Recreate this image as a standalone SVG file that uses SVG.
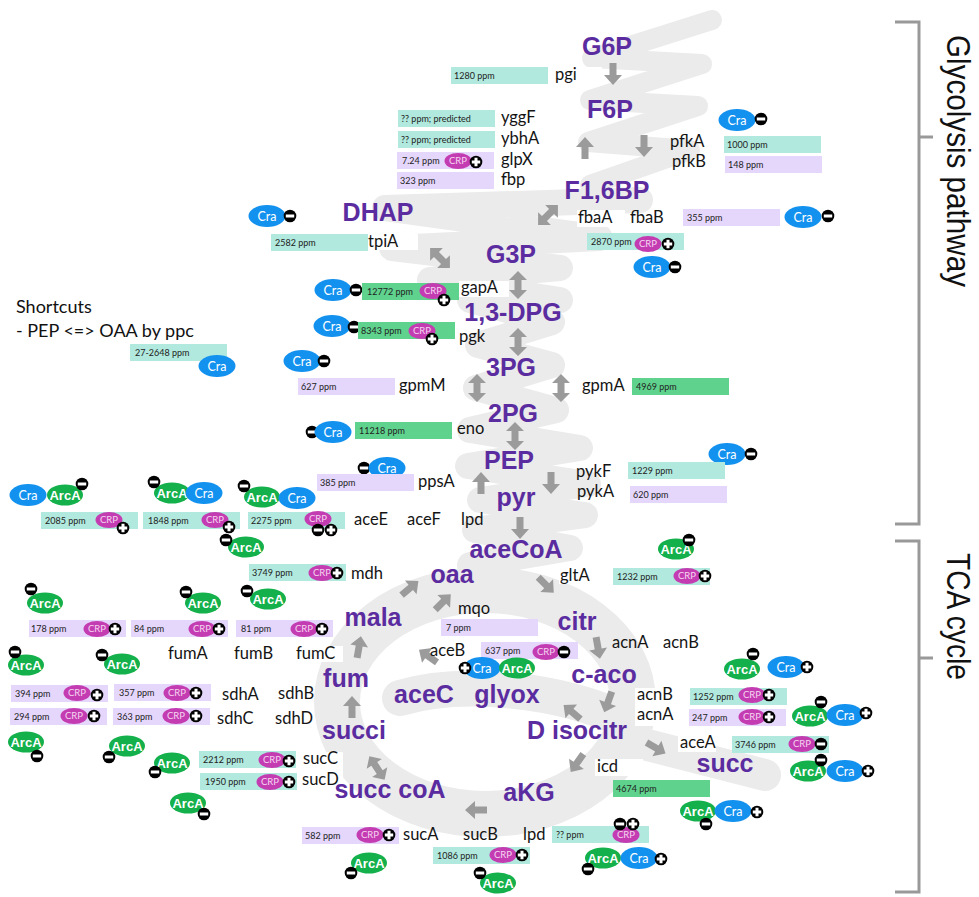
<svg xmlns="http://www.w3.org/2000/svg" width="979" height="897" viewBox="0 0 979 897">
<style>
.m{font:bold 25px "Liberation Sans",Arial,sans-serif;fill:#5a2ca0;text-anchor:middle}
.g{font:16.5px Lato,"Liberation Sans",sans-serif;fill:#141414}
.p{font:9px Lato,"Liberation Sans",sans-serif;fill:#222}
.t{fill:#b1e9de}.l{fill:#e5d6fc}.n{fill:#5fd38d}.w{fill:#fff}
.cra{fill:#1391ef}.arc{fill:#13b04b}.crp{fill:#c43cb1}
.ct{font:12.5px Lato,"Liberation Sans",sans-serif;fill:#fff;text-anchor:middle}
.at{font:bold 13px "Liberation Sans",Arial,sans-serif;fill:#fff;text-anchor:middle}
.rt{font:9.5px Lato,"Liberation Sans",sans-serif;fill:#f6d6f2;text-anchor:middle}
.rib{fill:none;stroke:#ebebeb;stroke-linecap:round;stroke-linejoin:round}
.br{fill:none;stroke:#999;stroke-width:3}
.big{font:33px "Liberation Sans",Arial,sans-serif;fill:#111}
.sc{font:18px Lato,"Liberation Sans",sans-serif;fill:#111}
</style>
<defs>
<path id="a1" fill="#9b9b9b" d="M-3.5,11V-1H-9L0,-11L9,-1H3.5V11Z"/>
<path id="a2" fill="#9b9b9b" d="M0,-14L9,-5H3.5V5H9L0,14L-9,5H-3.5V-5H-9Z"/>
<g id="mi"><circle r="6.3" fill="#000"/><rect x="-4.2" y="-1.5" width="8.4" height="3" fill="#fff"/></g>
<g id="pl"><circle r="6.3" fill="#000"/><path d="M-4.2,-1.5H-1.5V-4.2H1.5V-1.5H4.2V1.5H1.5V4.2H-1.5V1.5H-4.2Z" fill="#fff"/></g>
</defs>
<rect width="979" height="897" fill="#fff"/>

<!-- grey pathway ribbon -->
<g id="ribbon" class="rib">
<path stroke-width="20" d="M712,20 L592,58 L702,64 L590,100 L698,106 L588,142 L690,150 L590,185"/>
<path stroke-width="26" d="M640,200 L385,208 L600,238 L392,248 L560,268 L430,280 L560,300"/>
<path stroke-width="26" d="M470,300 L552,322 L478,345 L552,365 L476,388 L556,410 L470,430 L580,448 L468,466 L588,484 L480,500 L585,515 L475,530 L570,548 L470,565"/>
<ellipse stroke-width="46" cx="485" cy="702" rx="148" ry="112"/>
<path stroke-width="36" d="M400,698 C460,680 560,688 628,722"/>
<path stroke-width="32" d="M620,738 L765,775"/>
</g>

<!-- section brackets -->
<g id="brackets">
<path class="br" d="M895,22H919V524H895M919,137H933"/>
<path class="br" d="M895,541H919V892H895M919,658H933"/>
<text class="big" transform="translate(947,35) rotate(90)" textLength="252" lengthAdjust="spacingAndGlyphs">Glycolysis pathway</text>
<text class="big" transform="translate(947,553) rotate(90)" textLength="127" lengthAdjust="spacingAndGlyphs">TCA cycle</text>
</g>

<g id="note">
<text class="sc" x="16" y="313">Shortcuts</text>
<text class="sc" x="16" y="337">- PEP &lt;=&gt; OAA by ppc</text>
</g>

<!-- reaction arrows -->
<g id="connectors">
<use href="#a1" transform="translate(613,74) rotate(180)"/>
<use href="#a1" transform="translate(585,148)"/>
<use href="#a1" transform="translate(644,146) rotate(180)"/>
<use href="#a2" transform="translate(548,215) rotate(45)"/>
<use href="#a2" transform="translate(440,258) rotate(-45)"/>
<use href="#a2" transform="translate(518,285)"/>
<use href="#a2" transform="translate(518,342)"/>
<use href="#a2" transform="translate(477,388)"/>
<use href="#a2" transform="translate(561,388)"/>
<use href="#a2" transform="translate(515,436)"/>
<use href="#a1" transform="translate(481,483)"/>
<use href="#a1" transform="translate(551,483) rotate(180)"/>
<use href="#a1" transform="translate(520,528) rotate(180)"/>
<use href="#a1" transform="translate(410,588) rotate(50)"/>
<use href="#a1" transform="translate(443,602) rotate(45)"/>
<use href="#a1" transform="translate(546,585) rotate(135)"/>
<use href="#a1" transform="translate(598,648) rotate(170)"/>
<use href="#a1" transform="translate(608,702) rotate(200)"/>
<use href="#a1" transform="translate(572,712) rotate(-50)"/>
<use href="#a1" transform="translate(577,763) rotate(215)"/>
<use href="#a1" transform="translate(656,748) rotate(120)"/>
<use href="#a1" transform="translate(476,810) rotate(-90)"/>
<use href="#a2" transform="translate(377,768) rotate(-33)"/>
<use href="#a1" transform="translate(352,707)"/>
<use href="#a1" transform="translate(359,647) rotate(10)"/>
<use href="#a1" transform="translate(428,656) rotate(-55)"/>
</g>

<!-- enzymes with abundance and regulators -->
<g id="e-pgi">
<rect class="w" x="548" y="67" width="54" height="16"/>
<rect class="t" x="451" y="67" width="97" height="17"/><text class="p" x="454" y="79">1280 ppm</text>
<text class="g" x="555" y="80">pgi</text>
</g>
<g id="e-yggF">
<rect class="t" x="398" y="110" width="97" height="17"/><text class="p" x="401" y="122">?? ppm; predicted</text>
<text class="g" x="501" y="123">yggF</text>
</g>
<g id="e-ybhA">
<rect class="t" x="398" y="131" width="97" height="17"/><text class="p" x="401" y="143">?? ppm; predicted</text>
<text class="g" x="501" y="144">ybhA</text>
</g>
<g id="e-glpX">
<rect class="l" x="397" y="152" width="97" height="17"/><text class="p" x="402" y="164">7.24 ppm</text>
<ellipse class="crp" cx="458" cy="161" rx="13.5" ry="8"/><text class="rt" x="458" y="164.3">CRP</text>
<use href="#pl" x="476" y="162"/>
<text class="g" x="501" y="165">glpX</text>
</g>
<g id="e-fbp">
<rect class="l" x="397" y="172" width="97" height="17"/><text class="p" x="400" y="184">323 ppm</text>
<text class="g" x="501" y="185">fbp</text>
</g>
<g id="e-pfk">
<ellipse class="cra" cx="737" cy="120" rx="18.5" ry="11"/><text class="ct" x="737" y="124.5">Cra</text>
<use href="#mi" x="761" y="119"/>
<rect class="t" x="724" y="136" width="97" height="17"/><text class="p" x="727" y="148">1000 ppm</text>
<rect class="l" x="725" y="156" width="97" height="17"/><text class="p" x="728" y="168">148 ppm</text>
<text class="g" x="670" y="147">pfkA</text>
<text class="g" x="672" y="167">pfkB</text>
</g>
<g id="e-fba">
<rect class="w" x="577" y="210" width="48" height="17"/>
<text class="g" x="578" y="223">fbaA</text>
<text class="g" x="630" y="223">fbaB</text>
<rect class="l" x="683" y="209" width="97" height="17"/><text class="p" x="687" y="221">355 ppm</text>
<ellipse class="cra" cx="803" cy="217" rx="18.5" ry="11"/><text class="ct" x="803" y="221.5">Cra</text>
<use href="#mi" x="828" y="216"/>
<rect class="t" x="587" y="233" width="97" height="17"/><text class="p" x="591" y="245">2870 ppm</text>
<ellipse class="crp" cx="648" cy="244" rx="13.5" ry="8"/><text class="rt" x="648" y="247.3">CRP</text>
<use href="#pl" x="668" y="244"/>
<ellipse class="cra" cx="652" cy="267" rx="18.5" ry="11"/><text class="ct" x="652" y="271.5">Cra</text>
<use href="#mi" x="675" y="267"/>
</g>
<g id="e-tpiA">
<ellipse class="cra" cx="267" cy="216" rx="18.5" ry="11"/><text class="ct" x="267" y="220.5">Cra</text>
<use href="#mi" x="290" y="216"/>
<rect class="t" x="271" y="234" width="97" height="17"/><text class="p" x="275" y="246">2582 ppm</text>
<rect class="w" x="368" y="234" width="50" height="16"/>
<text class="g" x="368" y="247">tpiA</text>
</g>
<g id="e-gapA">
<ellipse class="cra" cx="333" cy="290" rx="18.5" ry="11"/><text class="ct" x="333" y="294.5">Cra</text>
<use href="#mi" x="356" y="290"/>
<rect class="n" x="362" y="283" width="97" height="17"/><text class="p" x="367" y="295">12772 ppm</text>
<ellipse class="crp" cx="433" cy="291" rx="13.5" ry="8"/><text class="rt" x="433" y="294.3">CRP</text>
<use href="#pl" x="444" y="300"/>
<rect class="w" x="459" y="281" width="50" height="16"/>
<text class="g" x="461" y="293">gapA</text>
</g>
<g id="e-pgk">
<ellipse class="cra" cx="332" cy="326" rx="18.5" ry="11"/><text class="ct" x="332" y="330.5">Cra</text>
<use href="#mi" x="354" y="327"/>
<rect class="n" x="358" y="322" width="97" height="17"/><text class="p" x="361" y="334">8343 ppm</text>
<ellipse class="crp" cx="422" cy="331" rx="13.5" ry="8"/><text class="rt" x="422" y="334.3">CRP</text>
<use href="#pl" x="432" y="339"/>
<text class="g" x="459" y="342">pgk</text>
</g>
<g id="e-gpmM">
<ellipse class="cra" cx="302" cy="361" rx="18.5" ry="11"/><text class="ct" x="302" y="365.5">Cra</text>
<use href="#mi" x="324" y="361"/>
<rect class="l" x="298" y="378" width="97" height="17"/><text class="p" x="301" y="390">627 ppm</text>
<text class="g" x="399" y="391">gpmM</text>
</g>
<g id="e-gpmA">
<text class="g" x="582" y="391">gpmA</text>
<rect class="n" x="632" y="378" width="97" height="17"/><text class="p" x="636" y="390">4969 ppm</text>
</g>
<g id="e-ppc">
<rect class="t" x="130" y="344" width="97" height="17"/><text class="p" x="135" y="356">27-2648 ppm</text>
<ellipse class="cra" cx="217" cy="366" rx="18.5" ry="11"/><text class="ct" x="217" y="370.5">Cra</text>
</g>
<g id="e-eno">
<use href="#mi" x="312" y="432"/>
<ellipse class="cra" cx="333" cy="432" rx="18.5" ry="11"/><text class="ct" x="333" y="436.5">Cra</text>
<rect class="n" x="355" y="422" width="97" height="17"/><text class="p" x="359" y="434">11218 ppm</text>
<text class="g" x="457" y="434">eno</text>
</g>
<g id="e-ppsA">
<use href="#mi" x="364" y="468"/>
<ellipse class="cra" cx="387" cy="468" rx="18.5" ry="11"/><text class="ct" x="387" y="472.5">Cra</text>
<rect class="l" x="317" y="474" width="97" height="17"/><text class="p" x="320" y="486">385 ppm</text>
<text class="g" x="418" y="487">ppsA</text>
</g>
<g id="e-pyk">
<text class="g" x="576" y="477">pykF</text>
<text class="g" x="577" y="497">pykA</text>
<ellipse class="cra" cx="727" cy="454" rx="18.5" ry="11"/><text class="ct" x="727" y="458.5">Cra</text>
<use href="#mi" x="751" y="454"/>
<rect class="t" x="628" y="462" width="97" height="17"/><text class="p" x="632" y="474">1229 ppm</text>
<rect class="l" x="630" y="486" width="97" height="17"/><text class="p" x="633" y="498">620 ppm</text>
</g>
<g id="e-pdh">
<ellipse class="cra" cx="28" cy="495" rx="18.5" ry="11"/><text class="ct" x="28" y="499.5">Cra</text>
<ellipse class="arc" cx="65" cy="495" rx="18" ry="10.5"/><text class="at" x="65" y="499.5">ArcA</text>
<use href="#mi" x="82" y="484"/>
<rect class="t" x="41" y="512" width="97" height="17"/><text class="p" x="45" y="524">2085 ppm</text>
<ellipse class="crp" cx="109" cy="520" rx="13.5" ry="8"/><text class="rt" x="109" y="523.3">CRP</text>
<use href="#pl" x="123" y="528"/>
<ellipse class="arc" cx="172" cy="493" rx="18" ry="10.5"/><text class="at" x="172" y="497.5">ArcA</text>
<ellipse class="cra" cx="204" cy="493" rx="18.5" ry="11"/><text class="ct" x="204" y="497.5">Cra</text>
<use href="#mi" x="154" y="482"/>
<rect class="t" x="143" y="512" width="97" height="17"/><text class="p" x="148" y="524">1848 ppm</text>
<ellipse class="crp" cx="215" cy="520" rx="13.5" ry="8"/><text class="rt" x="215" y="523.3">CRP</text>
<use href="#pl" x="229" y="527"/>
<ellipse class="arc" cx="246" cy="547" rx="18" ry="10.5"/><text class="at" x="246" y="551.5">ArcA</text>
<use href="#mi" x="226" y="540"/>
<ellipse class="arc" cx="262" cy="497" rx="18" ry="10.5"/><text class="at" x="262" y="501.5">ArcA</text>
<ellipse class="cra" cx="297" cy="498" rx="18.5" ry="11"/><text class="ct" x="297" y="502.5">Cra</text>
<use href="#mi" x="244" y="486"/>
<rect class="t" x="248" y="512" width="97" height="17"/><text class="p" x="251" y="524">2275 ppm</text>
<ellipse class="crp" cx="318" cy="519" rx="13.5" ry="8"/><text class="rt" x="318" y="522.3">CRP</text>
<use href="#mi" x="318" y="530"/>
<use href="#pl" x="331" y="530"/>
<text class="g" x="354" y="525">aceE</text>
<text class="g" x="407" y="525">aceF</text>
<text class="g" x="461" y="525">lpd</text>
</g>
<g id="e-mdh">
<rect class="t" x="249" y="564" width="97" height="17"/><text class="p" x="252" y="576">3749 ppm</text>
<ellipse class="crp" cx="322" cy="573" rx="13.5" ry="8"/><text class="rt" x="322" y="576.3">CRP</text>
<use href="#pl" x="337" y="573"/>
<text class="g" x="351" y="579">mdh</text>
</g>
<g id="e-gltA">
<ellipse class="arc" cx="676" cy="549" rx="18" ry="10.5"/><text class="at" x="676" y="553.5">ArcA</text>
<use href="#mi" x="689" y="540"/>
<rect class="w" x="559" y="568" width="49" height="16"/>
<text class="g" x="560" y="581">gltA</text>
<rect class="t" x="613" y="568" width="97" height="17"/><text class="p" x="617" y="580">1232 ppm</text>
<ellipse class="crp" cx="687" cy="576" rx="13.5" ry="8"/><text class="rt" x="687" y="579.3">CRP</text>
<use href="#pl" x="705" y="576"/>
</g>
<g id="e-mqo">
<text class="g" x="458" y="614">mqo</text>
<rect class="l" x="441" y="619" width="97" height="17"/><text class="p" x="446" y="631">7 ppm</text>
</g>
<g id="e-aceB">
<text class="g" x="430" y="656">aceB</text>
<rect class="l" x="481" y="642" width="97" height="17"/><text class="p" x="485" y="654">637 ppm</text>
<ellipse class="crp" cx="546" cy="652" rx="13.5" ry="8"/><text class="rt" x="546" y="655.3">CRP</text>
<use href="#mi" x="564" y="652"/>
<ellipse class="cra" cx="482" cy="668" rx="18.5" ry="11"/><text class="ct" x="482" y="672.5">Cra</text>
<use href="#pl" x="465" y="668"/>
<ellipse class="arc" cx="517" cy="668" rx="18" ry="10.5"/><text class="at" x="517" y="672.5">ArcA</text>
</g>
<g id="e-acn1">
<text class="g" x="612" y="648">acnA</text>
<text class="g" x="663" y="648">acnB</text>
<ellipse class="arc" cx="742" cy="669" rx="18" ry="10.5"/><text class="at" x="742" y="673.5">ArcA</text>
<use href="#mi" x="753" y="654"/>
<ellipse class="cra" cx="786" cy="667" rx="18.5" ry="11"/><text class="ct" x="786" y="671.5">Cra</text>
<use href="#pl" x="807" y="667"/>
</g>
<g id="e-acn2">
<rect class="w" x="635" y="688" width="44" height="38"/>
<text class="g" x="637" y="700">acnB</text>
<text class="g" x="637" y="720">acnA</text>
<rect class="t" x="690" y="688" width="97" height="17"/><text class="p" x="693" y="700">1252 ppm</text>
<ellipse class="crp" cx="752" cy="695" rx="13.5" ry="8"/><text class="rt" x="752" y="698.3">CRP</text>
<use href="#pl" x="769" y="695"/>
<rect class="l" x="689" y="709" width="97" height="17"/><text class="p" x="692" y="721">247 ppm</text>
<ellipse class="crp" cx="752" cy="717" rx="13.5" ry="8"/><text class="rt" x="752" y="720.3">CRP</text>
<use href="#pl" x="769" y="717"/>
<ellipse class="arc" cx="810" cy="716" rx="18" ry="10.5"/><text class="at" x="810" y="720.5">ArcA</text>
<ellipse class="cra" cx="845" cy="715" rx="18.5" ry="11"/><text class="ct" x="845" y="719.5">Cra</text>
<use href="#mi" x="821" y="702"/>
<use href="#pl" x="866" y="713"/>
</g>
<g id="e-aceA">
<rect class="w" x="678" y="736" width="38" height="16"/>
<text class="g" x="680" y="748">aceA</text>
<rect class="t" x="732" y="736" width="97" height="17"/><text class="p" x="735" y="748">3746 ppm</text>
<ellipse class="crp" cx="802" cy="744" rx="13.5" ry="8"/><text class="rt" x="802" y="747.3">CRP</text>
<use href="#mi" x="821" y="744"/>
<ellipse class="arc" cx="808" cy="771" rx="18" ry="10.5"/><text class="at" x="808" y="775.5">ArcA</text>
<ellipse class="cra" cx="845" cy="771" rx="18.5" ry="11"/><text class="ct" x="845" y="775.5">Cra</text>
<use href="#mi" x="821" y="760"/>
<use href="#pl" x="868" y="771"/>
</g>
<g id="e-icd">
<rect class="w" x="595" y="759" width="48" height="17"/>
<text class="g" x="597" y="772">icd</text>
<rect class="n" x="613" y="780" width="97" height="17"/><text class="p" x="616" y="792">4674 ppm</text>
<ellipse class="arc" cx="698" cy="811" rx="18" ry="10.5"/><text class="at" x="698" y="815.5">ArcA</text>
<ellipse class="cra" cx="733" cy="811" rx="18.5" ry="11"/><text class="ct" x="733" y="815.5">Cra</text>
<use href="#mi" x="706" y="824"/>
<use href="#pl" x="757" y="812"/>
</g>
<g id="e-fum">
<ellipse class="arc" cx="45" cy="603" rx="18" ry="10.5"/><text class="at" x="45" y="607.5">ArcA</text>
<use href="#mi" x="31" y="589"/>
<ellipse class="arc" cx="203" cy="603" rx="18" ry="10.5"/><text class="at" x="203" y="607.5">ArcA</text>
<use href="#mi" x="186" y="592"/>
<ellipse class="arc" cx="268" cy="599" rx="18" ry="10.5"/><text class="at" x="268" y="603.5">ArcA</text>
<use href="#mi" x="247" y="591"/>
<rect class="l" x="29" y="620" width="97" height="17"/><text class="p" x="31" y="632">178 ppm</text>
<ellipse class="crp" cx="97" cy="629" rx="13.5" ry="8"/><text class="rt" x="97" y="632.3">CRP</text>
<use href="#pl" x="115" y="629"/>
<rect class="l" x="131" y="620" width="97" height="17"/><text class="p" x="134" y="632">84 ppm</text>
<ellipse class="crp" cx="202" cy="629" rx="13.5" ry="8"/><text class="rt" x="202" y="632.3">CRP</text>
<use href="#pl" x="219" y="629"/>
<rect class="l" x="236" y="620" width="97" height="17"/><text class="p" x="241" y="632">81 ppm</text>
<ellipse class="crp" cx="304" cy="629" rx="13.5" ry="8"/><text class="rt" x="304" y="632.3">CRP</text>
<use href="#pl" x="322" y="629"/>
<rect class="w" x="295" y="646" width="48" height="16"/>
<text class="g" x="168" y="659">fumA</text>
<text class="g" x="234" y="659">fumB</text>
<text class="g" x="296" y="659">fumC</text>
</g>
<g id="e-sdh">
<ellipse class="arc" cx="26" cy="665" rx="18" ry="10.5"/><text class="at" x="26" y="669.5">ArcA</text>
<use href="#mi" x="15" y="652"/>
<ellipse class="arc" cx="122" cy="664" rx="18" ry="10.5"/><text class="at" x="122" y="668.5">ArcA</text>
<use href="#mi" x="102" y="655"/>
<rect class="l" x="11" y="685" width="97" height="17"/><text class="p" x="15" y="697">394 ppm</text>
<ellipse class="crp" cx="77" cy="693" rx="13.5" ry="8"/><text class="rt" x="77" y="696.3">CRP</text>
<use href="#pl" x="97" y="695"/>
<rect class="l" x="114" y="684" width="97" height="17"/><text class="p" x="119" y="696">357 ppm</text>
<ellipse class="crp" cx="177" cy="693" rx="13.5" ry="8"/><text class="rt" x="177" y="696.3">CRP</text>
<use href="#pl" x="196" y="693"/>
<rect class="l" x="10" y="708" width="97" height="17"/><text class="p" x="14" y="720">294 ppm</text>
<ellipse class="crp" cx="74" cy="716" rx="13.5" ry="8"/><text class="rt" x="74" y="719.3">CRP</text>
<use href="#pl" x="94" y="716"/>
<rect class="l" x="113" y="708" width="97" height="17"/><text class="p" x="117" y="720">363 ppm</text>
<ellipse class="crp" cx="176" cy="716" rx="13.5" ry="8"/><text class="rt" x="176" y="719.3">CRP</text>
<use href="#pl" x="196" y="716"/>
<text class="g" x="222" y="700">sdhA</text>
<text class="g" x="278" y="699">sdhB</text>
<text class="g" x="217" y="724">sdhC</text>
<text class="g" x="275" y="724">sdhD</text>
<ellipse class="arc" cx="26" cy="742" rx="18" ry="10.5"/><text class="at" x="26" y="746.5">ArcA</text>
<use href="#mi" x="37" y="756"/>
<ellipse class="arc" cx="127" cy="746" rx="18" ry="10.5"/><text class="at" x="127" y="750.5">ArcA</text>
<use href="#mi" x="109" y="757"/>
</g>
<g id="e-sucCD">
<ellipse class="arc" cx="172" cy="763" rx="18" ry="10.5"/><text class="at" x="172" y="767.5">ArcA</text>
<use href="#mi" x="155" y="772"/>
<rect class="t" x="199" y="751" width="97" height="17"/><text class="p" x="203" y="763">2212 ppm</text>
<ellipse class="crp" cx="272" cy="760" rx="13.5" ry="8"/><text class="rt" x="272" y="763.3">CRP</text>
<use href="#pl" x="289" y="761"/>
<rect class="t" x="200" y="773" width="97" height="17"/><text class="p" x="205" y="785">1950 ppm</text>
<ellipse class="crp" cx="270" cy="782" rx="13.5" ry="8"/><text class="rt" x="270" y="785.3">CRP</text>
<use href="#pl" x="289" y="782"/>
<rect class="w" x="303" y="752" width="40" height="26"/>
<text class="g" x="303" y="764">sucC</text>
<text class="g" x="302" y="785" font-size="15">sucD</text>
<ellipse class="arc" cx="188" cy="803" rx="18" ry="10.5"/><text class="at" x="188" y="807.5">ArcA</text>
<use href="#mi" x="204" y="814"/>
</g>
<g id="e-sucAB">
<rect class="l" x="302" y="827" width="97" height="17"/><text class="p" x="305" y="839">582 ppm</text>
<ellipse class="crp" cx="370" cy="835" rx="13.5" ry="8"/><text class="rt" x="370" y="838.3">CRP</text>
<use href="#pl" x="389" y="835"/>
<text class="g" x="403" y="840">sucA</text>
<text class="g" x="463" y="840">sucB</text>
<text class="g" x="523" y="840">lpd</text>
<ellipse class="arc" cx="369" cy="863" rx="18" ry="10.5"/><text class="at" x="369" y="867.5">ArcA</text>
<use href="#mi" x="351" y="873"/>
<rect class="t" x="433" y="847" width="97" height="17"/><text class="p" x="437" y="859">1086 ppm</text>
<ellipse class="crp" cx="503" cy="855" rx="13.5" ry="8"/><text class="rt" x="503" y="858.3">CRP</text>
<use href="#pl" x="522" y="855"/>
<ellipse class="arc" cx="498" cy="883" rx="18" ry="10.5"/><text class="at" x="498" y="887.5">ArcA</text>
<use href="#mi" x="480" y="873"/>
<rect class="t" x="552" y="826" width="97" height="17"/><text class="p" x="556" y="838">?? ppm</text>
<ellipse class="crp" cx="626" cy="835" rx="13.5" ry="8"/><text class="rt" x="626" y="838.3">CRP</text>
<use href="#mi" x="620" y="824"/>
<use href="#pl" x="633" y="824"/>
<ellipse class="arc" cx="603" cy="858" rx="18" ry="10.5"/><text class="at" x="603" y="862.5">ArcA</text>
<ellipse class="cra" cx="639" cy="858" rx="18.5" ry="11"/><text class="ct" x="639" y="862.5">Cra</text>
<use href="#mi" x="588" y="869"/>
<use href="#pl" x="661" y="859"/>
</g>

<!-- metabolites, drawn on top -->
<g id="n-G6P"><text class="m" x="607" y="55">G6P</text></g>
<g id="n-F6P"><text class="m" x="610" y="118">F6P</text></g>
<g id="n-F16BP"><text class="m" x="607" y="199">F1,6BP</text></g>
<g id="n-DHAP"><text class="m" x="378" y="221">DHAP</text></g>
<g id="n-G3P"><text class="m" x="511" y="263">G3P</text></g>
<g id="n-13DPG"><text class="m" x="513" y="321" font-size="24.5">1,3-DPG</text></g>
<g id="n-3PG"><text class="m" x="511" y="376">3PG</text></g>
<g id="n-2PG"><text class="m" x="513" y="422">2PG</text></g>
<g id="n-PEP"><text class="m" x="509" y="469">PEP</text></g>
<g id="n-pyr"><text class="m" x="516" y="506">pyr</text></g>
<g id="n-aceCoA"><text class="m" x="516" y="558">aceCoA</text></g>
<g id="n-oaa"><text class="m" x="452" y="583">oaa</text></g>
<g id="n-mala"><text class="m" x="373" y="626">mala</text></g>
<g id="n-citr"><text class="m" x="577" y="630">citr</text></g>
<g id="n-fum"><text class="m" x="346" y="687">fum</text></g>
<g id="n-caco"><text class="m" x="604" y="683">c-aco</text></g>
<g id="n-aceC"><text class="m" x="424" y="703">aceC</text></g>
<g id="n-glyox"><text class="m" x="507" y="703">glyox</text></g>
<g id="n-Disocitr"><text class="m" x="577" y="739">D isocitr</text></g>
<g id="n-succi"><text class="m" x="354" y="739">succi</text></g>
<g id="n-succ"><text class="m" x="725" y="772">succ</text></g>
<g id="n-succcoA"><text class="m" x="390" y="798">succ coA</text></g>
<g id="n-aKG"><text class="m" x="529" y="801">aKG</text></g>
</svg>
